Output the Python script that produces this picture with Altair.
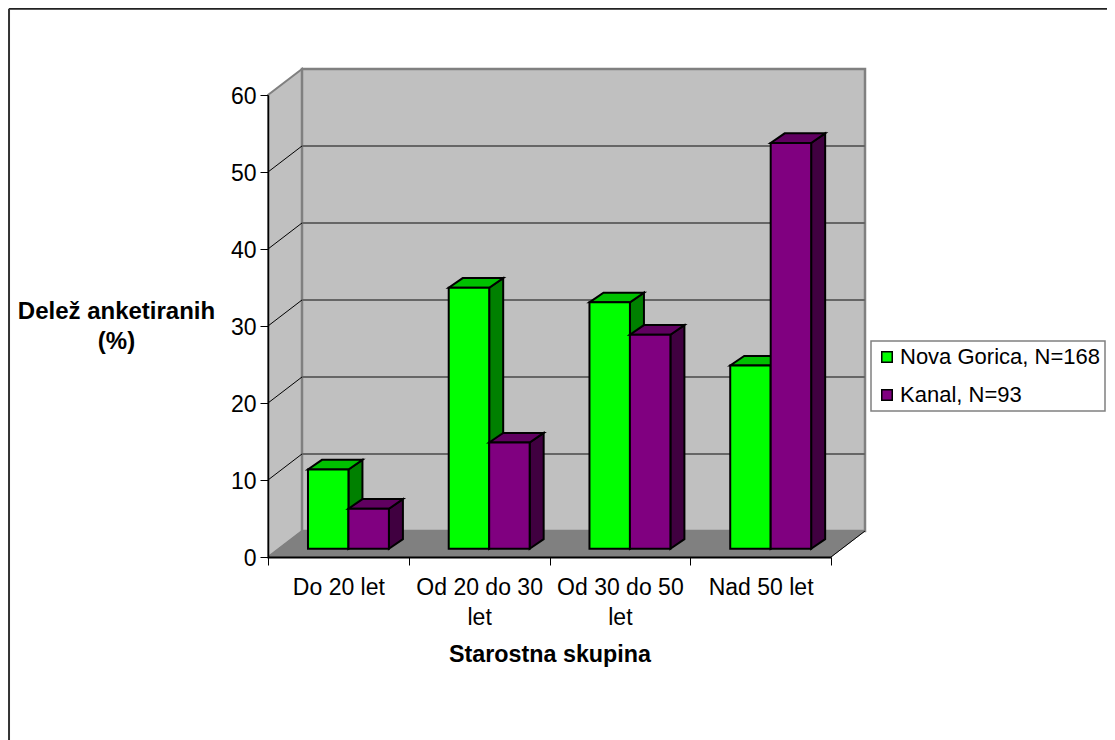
import altair as alt
import pandas as pd

categories = ["Do 20 let", "Od 20 do 30 let", "Od 30 do 50 let", "Nad 50 let"]
category_lines = [["Do 20 let"], ["Od 20 do 30", "let"], ["Od 30 do 50", "let"], ["Nad 50 let"]]
series_names = ["Nova Gorica, N=168", "Kanal, N=93"]
nova_gorica = [10.3, 33.9, 32.0, 23.8]
kanal = [5.2, 13.8, 27.8, 52.7]
y_ticks = [0, 10, 20, 30, 40, 50, 60]
FONT = "Liberation Sans"
FS = 23

# geometry in data units (x: categories, y: percent)
WALL_DX, WALL_DY = 0.2416, 3.38
BAR_DX, BAR_DY = 0.0995, 1.25
BAR_BASE = 1.07
BAR_START = 0.284
BAR_W = 0.2875
FRAME = dict(l=-1.84, r=6.02, t=71.2, b=-24)
YMAX, XMAX = 60, 4

x_s = alt.Scale(domain=[0, XMAX], nice=False, zero=False)
y_s = alt.Scale(domain=[0, YMAX], nice=False, zero=False)

expr = ""
for i, lines in enumerate(category_lines):
    arr = "[" + ",".join("'" + s + "'" for s in lines) + "]"
    expr += f"datum.value=={i + 0.5}?{arr}:"
expr += "''"
axis_x = alt.Axis(values=[0, .5, 1, 1.5, 2, 2.5, 3, 3.5, 4], labelExpr=expr, grid=False, zindex=1,
                  tickOpacity={"condition": {"test": "datum.value%1!==0", "value": 0}, "value": 1},
                  tickSize=8, tickColor="black", tickWidth=1, domainColor="black", domainWidth=2,
                  labelFont=FONT, labelFontSize=FS, labelColor="black", labelLineHeight=30,
                  labelPadding=11, labelOverlap=False, labelFlush=False, labelBound=False, labelAngle=0,
                  title="Starostna skupina", titleFont=FONT, titleFontSize=23.3, titleFontWeight="bold",
                  titleColor="black", titleY=86)
axis_y = alt.Axis(values=y_ticks, grid=False, zindex=1, tickSize=8, tickColor="black", tickWidth=1,
                  domainColor="black", domainWidth=1.5, labelFont=FONT, labelFontSize=FS, labelColor="black",
                  labelPadding=4, labelOffset=1, title=["Delež anketiranih", "(%)"], titleFont=FONT, titleFontSize=24,
                  titleFontWeight="bold", titleColor="black", titleAngle=0, titleAlign="center",
                  titleBaseline="middle", titleX=-152, titleY=216, titleLineHeight=30)

def X(f="x", **k): return alt.X(f"{f}:Q", scale=x_s, axis=axis_x, **k)
def Y(f="y", **k): return alt.Y(f"{f}:Q", scale=y_s, axis=axis_y, **k)

def poly(df, fill, stroke, sw=1.5):
    return alt.Chart(pd.DataFrame(df)).mark_area(fill=fill, stroke=stroke, strokeWidth=sw, strokeJoin="miter").encode(
        x=X(), y=Y("y"), y2=alt.Y2("y2:Q"), detail="id:N")

# frame
frame_top = alt.Chart(pd.DataFrame({"x": [FRAME["l"]], "x2": [FRAME["r"]], "y": [FRAME["t"]]})).mark_rule(
    color="#222222", strokeWidth=2).encode(x=X(), x2="x2:Q", y=Y())
frame_left = alt.Chart(pd.DataFrame({"x": [FRAME["l"]], "y": [FRAME["b"]], "y2": [FRAME["t"]]})).mark_rule(
    color="#333333", strokeWidth=2).encode(x=X(), y=Y(), y2="y2:Q")

# walls and floor
side_wall = poly({"id": [0, 0], "x": [0, WALL_DX], "y": [0, WALL_DY], "y2": [YMAX, YMAX + WALL_DY]}, "#c0c0c0", "#808080", 2)
back_wall = alt.Chart(pd.DataFrame({"x": [WALL_DX], "x2": [XMAX + WALL_DX], "y": [WALL_DY], "y2": [YMAX + WALL_DY]})).mark_rect(
    fill="#c0c0c0", stroke="#808080", strokeWidth=2.5).encode(x=X(), x2="x2:Q", y=Y(), y2="y2:Q")
floor = poly({"id": [0] * 4, "x": [0, WALL_DX, XMAX, XMAX + WALL_DX], "y": [0, 0, 0, WALL_DY],
              "y2": [0, WALL_DY, WALL_DY, WALL_DY]}, "#808080", "#808080", 1)
grid_vals = [v for v in y_ticks if 0 < v < YMAX]
grid = alt.Chart(pd.DataFrame({"x": WALL_DX, "x2": XMAX + WALL_DX, "y": [v + WALL_DY for v in grid_vals]})).mark_rule(
    color="#666666", strokeWidth=2).encode(x=X(), x2="x2:Q", y=Y())
side_rows = []
for v in grid_vals:
    side_rows += [{"id": v, "x": 0, "y": v}, {"id": v, "x": WALL_DX, "y": v + WALL_DY}]
side_lines = alt.Chart(pd.DataFrame(side_rows)).mark_line(color="black", strokeWidth=1).encode(x=X(), y=Y(), detail="id:N")
floor_edge = alt.Chart(pd.DataFrame({"id": [0, 0], "x": [XMAX, XMAX + WALL_DX], "y": [0, WALL_DY]})).mark_line(
    color="black", strokeWidth=1).encode(x=X(), y=Y(), detail="id:N")

# bars
def bars(name, vals, off, top_c, side_c):
    side, top, fr = [], [], []
    for i, v in enumerate(vals):
        L = i + BAR_START + off * BAR_W
        R = L + BAR_W
        T = BAR_BASE + v
        side += [{"id": i, "x": R, "y": BAR_BASE, "y2": T}, {"id": i, "x": R + BAR_DX, "y": BAR_BASE + BAR_DY, "y2": T + BAR_DY}]
        top += [{"id": i, "x": L, "y": T, "y2": T}, {"id": i, "x": L + BAR_DX, "y": T, "y2": T + BAR_DY},
                {"id": i, "x": R, "y": T, "y2": T + BAR_DY}, {"id": i, "x": R + BAR_DX, "y": T + BAR_DY, "y2": T + BAR_DY}]
        fr.append({"s": name, "x": L, "x2": R, "y": BAR_BASE, "y2": T})
    front_layer = alt.Chart(pd.DataFrame(fr)).mark_rect(stroke="black", strokeWidth=2).encode(
        x=X(), x2="x2:Q", y=Y(), y2="y2:Q",
        fill=alt.Fill("s:N", scale=alt.Scale(domain=series_names, range=["#00ff00", "#800080"]),
                      legend=alt.Legend(title=None, orient="none", legendX=603, legendY=246, symbolType="square",
                                        symbolSize=110, symbolStrokeColor="black", symbolStrokeWidth=1.5,
                                        labelFont=FONT, labelFontSize=22, labelColor="black", labelLimit=400,
                                        labelOffset=2, strokeColor="#808080", fillColor="white", padding=5,
                                        rowPadding=16, symbolOffset=0)))
    return [poly(side, side_c, "black", 2), poly(top, top_c, "black", 2), front_layer]

layers = [frame_top, frame_left, side_wall, back_wall, floor, grid, side_lines, floor_edge]
layers += bars(series_names[0], nova_gorica, 0, "#00c000", "#008000")
layers += bars(series_names[1], kanal, 1, "#600060", "#400040")

chart = alt.layer(*layers).properties(
    width=563, height=462, autosize=alt.AutoSizeParams(type="none"),
    padding={"left": 260, "top": 87, "right": 276, "bottom": 183}, background="white"
).configure_view(stroke=None).configure_legend(strokeWidth=1.5)

chart.save("out.html", embed_options={"renderer": "svg", "actions": False})
